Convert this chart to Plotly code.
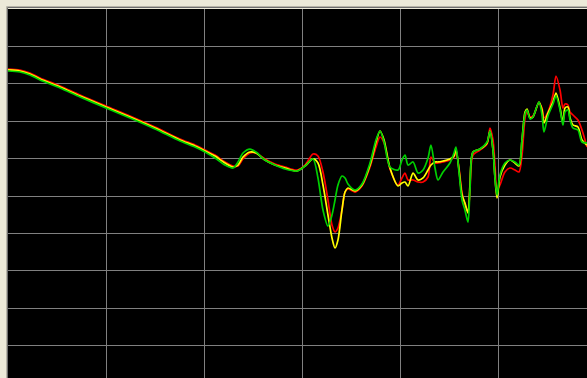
import plotly.graph_objects as go

# Frequency position in grid divisions (shared by all three traces)
x_div = [0.0, 0.122, 0.224, 0.327, 0.531, 0.735, 1.0, 1.245, 1.5, 1.755,
         1.908, 2.01, 2.112, 2.214, 2.296, 2.347, 2.398, 2.469, 2.531, 2.622,
         2.724, 2.827, 2.949, 3.031, 3.112, 3.163, 3.214, 3.265, 3.306, 3.337,
         3.367, 3.408, 3.439, 3.469, 3.541, 3.612, 3.694, 3.755, 3.796, 3.837,
         3.898, 3.98, 4.02, 4.051, 4.082, 4.133, 4.184, 4.235, 4.286, 4.316,
         4.357, 4.388, 4.439, 4.51, 4.551, 4.571, 4.602, 4.633, 4.663, 4.694,
         4.714, 4.745, 4.816, 4.888, 4.918, 4.949, 4.969, 4.99, 5.02, 5.071,
         5.122, 5.173, 5.214, 5.245, 5.276, 5.296, 5.327, 5.357, 5.418, 5.449,
         5.469, 5.51, 5.561, 5.592, 5.633, 5.663, 5.684, 5.714, 5.735, 5.765,
         5.816, 5.857, 5.908]

# Level in dB for each measurement
red_db = [1.98, 1.85, 1.44, 0.78, -0.29, -1.50, -2.97, -4.30, -5.78, -7.38,
          -8.18, -8.85, -9.52, -10.45, -10.99, -10.99, -10.05, -9.25, -9.25, -10.05,
          -10.72, -11.12, -11.52, -10.86, -9.38, -9.65, -11.79, -15.53, -18.88, -19.81,
          -19.28, -16.87, -14.47, -14.06, -14.47, -13.66, -11.12, -8.45, -7.11, -7.91,
          -11.39, -13.53, -12.59, -11.93, -12.86, -12.86, -13.13, -13.13, -12.46, -9.79,
          -10.59, -10.59, -10.45, -10.19, -9.79, -9.12, -11.26, -14.60, -16.20, -17.14,
          -14.20, -9.52, -8.85, -8.05, -5.91, -7.51, -10.86, -14.20, -13.53, -11.79,
          -11.26, -11.52, -11.79, -9.52, -4.57, -3.64, -4.44, -4.30, -2.57, -3.24,
          -4.57, -3.77, -1.50, 1.04, -0.83, -3.24, -2.70, -2.83, -3.77, -4.17,
          -4.84, -6.18, -8.45]

yellow_db = [1.85, 1.71, 1.31, 0.64, -0.43, -1.63, -3.10, -4.44, -5.91, -7.51,
             -8.31, -8.98, -9.65, -10.59, -11.12, -10.86, -9.79, -9.12, -9.25, -10.19,
             -10.86, -11.26, -11.66, -10.99, -10.05, -10.59, -13.53, -17.54, -20.61, -21.95,
             -20.88, -16.87, -14.47, -13.93, -14.33, -13.53, -10.86, -7.78, -6.31, -7.51,
             -11.26, -13.66, -13.26, -13.13, -13.66, -11.93, -12.86, -12.59, -11.52, -10.86,
             -10.45, -10.45, -10.32, -10.05, -9.65, -8.72, -11.52, -14.87, -15.94, -17.27,
             -13.53, -9.12, -8.72, -7.91, -6.31, -8.85, -12.46, -15.27, -12.46, -10.86,
             -10.19, -10.59, -10.99, -7.51, -3.77, -3.37, -4.57, -4.44, -2.43, -3.50,
             -5.24, -3.90, -2.43, -1.23, -3.24, -5.24, -3.24, -3.10, -4.57, -5.51,
             -5.78, -7.51, -8.18]

green_db = [1.71, 1.58, 1.18, 0.51, -0.56, -1.76, -3.24, -4.57, -6.04, -7.65,
            -8.45, -9.12, -9.92, -10.86, -11.26, -10.45, -9.25, -8.72, -9.12, -10.19,
            -10.86, -11.39, -11.66, -10.99, -10.05, -12.59, -16.87, -19.01, -17.54, -15.53,
            -13.53, -12.33, -12.59, -13.40, -14.20, -13.40, -10.59, -7.51, -6.31, -7.78,
            -11.12, -11.52, -10.19, -9.52, -10.86, -10.45, -11.93, -11.52, -9.92, -8.18,
            -11.26, -12.86, -11.79, -10.59, -9.25, -8.45, -11.79, -15.53, -16.87, -18.48,
            -14.20, -9.12, -8.72, -7.78, -6.31, -8.85, -12.59, -14.87, -12.19, -10.59,
            -10.19, -10.45, -10.86, -7.51, -4.04, -3.50, -4.71, -4.44, -2.43, -4.17,
            -6.44, -4.30, -2.70, -1.63, -3.50, -5.51, -3.77, -3.50, -4.84, -5.91,
            -6.18, -7.78, -7.91]

W, H = 587, 378
ML, MT = 8, 9
PX_PER_DIV_X = 98
PX_PER_DIV_Y = 37.4
DB_PER_DIV = 5
Y_TOP = 10

plot_w = W - ML
plot_h = H - MT
x_max = plot_w / PX_PER_DIV_X
y_min = Y_TOP - plot_h / PX_PER_DIV_Y * DB_PER_DIV

fig = go.Figure()
for ys, col in [(red_db, "#ff0000"), (yellow_db, "#ffff00"), (green_db, "#00d000")]:
    fig.add_trace(go.Scatter(
        x=x_div, y=ys, mode="lines",
        line=dict(color=col, width=1.7, shape="spline", smoothing=0.8),
        hoverinfo="skip", showlegend=False,
    ))

fig.update_xaxes(
    range=[0, x_max], tickvals=[1, 2, 3, 4, 5], showticklabels=False,
    showgrid=True, gridcolor="#808080", gridwidth=1,
    zeroline=False, showline=False, ticks="",
)
fig.update_yaxes(
    range=[y_min, Y_TOP], tickvals=[5, 0, -5, -10, -15, -20, -25, -30, -35],
    showticklabels=False, showgrid=True, gridcolor="#808080", gridwidth=1,
    zeroline=False, showline=False, ticks="",
)

# Sunken frame along the top and left edges of the plot area
def px_x(p):
    return (p - ML) / plot_w

def px_y(p):
    return 1 - (p - MT) / plot_h

frame = []
for pos, col in [(6.5, "#b8b5a8"), (7.5, "#6e6e6e")]:
    frame.append(dict(type="line", xref="paper", yref="paper",
                      x0=px_x(pos), x1=px_x(pos), y0=px_y(pos), y1=px_y(H + 2),
                      line=dict(color=col, width=1)))
    frame.append(dict(type="line", xref="paper", yref="paper",
                      x0=px_x(pos), x1=px_x(W + 2), y0=px_y(pos), y1=px_y(pos),
                      line=dict(color=col, width=1)))

fig.update_layout(
    width=W, height=H,
    margin=dict(l=ML, r=0, t=MT, b=0),
    paper_bgcolor="#ece9d8", plot_bgcolor="#000000",
    shapes=frame, showlegend=False,
)

fig.write_html("out.html", config={"displayModeBar": False})
